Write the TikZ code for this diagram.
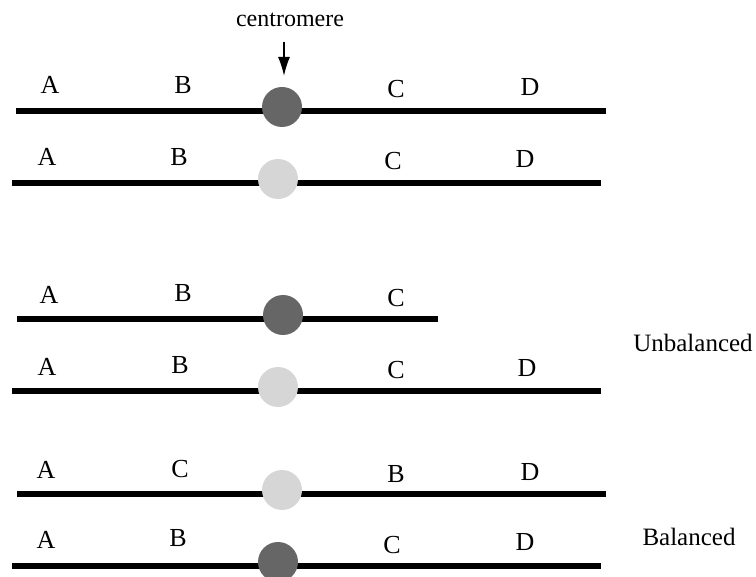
\documentclass[tikz,border=0pt]{standalone}
\usepackage{fontspec}
\setmainfont{Liberation Serif}
\usetikzlibrary{positioning,arrows.meta}

\begin{document}
\begin{tikzpicture}[>=Latex, x=1pt, y=-1pt,
  arm/.style={line width=6.5pt},
  cen/.style={circle,minimum size=40pt,inner sep=0pt},
  dk/.style={cen,fill=black!60},
  lt/.style={cen,fill=black!16},
  lbl/.style={inner sep=0pt,font=\fontsize{25}{30}\selectfont},
  gene/.style={lbl,font=\fontsize{26}{30}\selectfont}]
\useasboundingbox (0,0) rectangle (756,577);
% chromosomes: row/y/left/right/centromere x/style
\foreach \r/\y/\xa/\xb/\xc/\s in {1/111/16/606/282/dk, 2/183/12/601/278/lt,
    3/319/17/438/283/dk, 4/391/12/601/278/lt, 5/494/17/606/282/lt, 6/566/12/601/278/dk}{
  \coordinate (l\r) at (\xa,\y);
  \coordinate (r\r) at (\xb,\y);
  \draw[arm] (l\r) -- (r\r);
  \node[\s] (c\r) at (\xc,\y-4) {};
}
% gene labels
\foreach \r/\k/\t/\x/\y in {1/1/A/50/85, 1/2/B/183/85, 1/3/C/396/89, 1/4/D/530/87,
    2/1/A/47/157, 2/2/B/179/157, 2/3/C/393/161, 2/4/D/525/159,
    3/1/A/49/295, 3/2/B/183/293, 3/3/C/396/298,
    4/1/A/47/367, 4/2/B/180/365, 4/3/C/396/370, 4/4/D/527/368,
    5/1/A/46/470, 5/2/C/180/469, 5/3/B/396/474, 5/4/D/530/472,
    6/1/A/46/540, 6/2/B/178/538, 6/3/C/392/545, 6/4/D/525/542}{
  \node[gene] (g\r-\k) at (\x,\y) {\t};
}
% centromere pointer
\node[lbl,font=\fontsize{24}{28}\selectfont] (cname) at (290,20) {centromere};
\coordinate (atail) at (284,42);
\coordinate (ahead) at (284,76);
\draw[-{Latex[length=19pt,width=12pt]},line width=1.5pt] (atail) -- (ahead);
% outcome
\node[lbl] (unbal) at (693,343) {Unbalanced};
\node[lbl] (bal) at (689,537) {Balanced};
\end{tikzpicture}
\end{document}
